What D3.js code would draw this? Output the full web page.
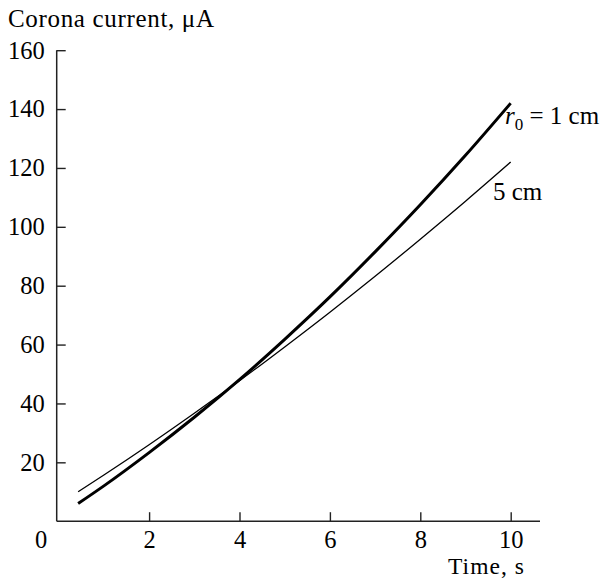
<!DOCTYPE html>
<html>
<head>
<meta charset="utf-8">
<script src="https://cdn.jsdelivr.net/npm/d3@7"></script>
<style>
  html, body { margin: 0; padding: 0; background: #fff; }
  svg { display: block; font-family: "Liberation Serif", "Times New Roman", serif; }
</style>
</head>
<body>
<svg id="chart" width="608" height="579"></svg>
<script>
// ---- data ----
const timeS = [0.43, 1, 2, 3, 4, 5, 6, 7, 8, 9, 10];
const currentR1 = [6.0, 12.0, 23.3, 35.3, 48.1, 61.8, 76.2, 91.5, 107.5, 124.3, 142.0]; // r0 = 1 cm (thick)
const currentR5 = [10.0, 15.7, 26.0, 36.7, 47.7, 59.2, 71.0, 83.2, 95.8, 108.7, 122.0]; // 5 cm (thin)
const xTicks = [2, 4, 6, 8, 10];
const yTicks = [20, 40, 60, 80, 100, 120, 140, 160];
const yTitle = "Corona current, μA";
const xTitle = "Time, s";

const svg = d3.select("#chart");
const x = d3.scaleLinear().domain([0, 10]).range([58.7, 510.7]);
const y = d3.scaleLinear().domain([0, 160]).range([521.2, 50.2]);
const axisX0 = 56.7;
const axisColor = "#222";
const tickFont = 24.5;

// x axis
const gx = svg.append("g").attr("transform", `translate(0,${y(0)})`)
  .call(d3.axisBottom(x).tickValues(xTicks).tickSizeInner(-9).tickSizeOuter(0).tickPadding(9.5).tickFormat(d3.format("d")));
gx.select(".domain").remove();
gx.selectAll(".tick line").attr("stroke", axisColor).attr("stroke-width", 1.4);
gx.selectAll(".tick text").attr("font-size", tickFont).attr("fill", "#000").attr("font-family", "Liberation Serif");
svg.append("line").attr("x1", axisX0).attr("x2", 540).attr("y1", y(0)).attr("y2", y(0))
  .attr("stroke", axisColor).attr("stroke-width", 1.5);
// corner "0" label
svg.append("text").attr("x", 41).attr("y", 548).attr("text-anchor", "middle")
  .attr("font-size", tickFont).text("0");

// y axis
const gy = svg.append("g").attr("transform", `translate(${axisX0},0)`)
  .call(d3.axisLeft(y).tickValues(yTicks).tickSizeInner(-9).tickSizeOuter(0).tickPadding(12).tickFormat(d3.format("d")));
gy.select(".domain").remove();
gy.selectAll(".tick line").attr("stroke", axisColor).attr("stroke-width", 1.4);
gy.selectAll(".tick text").attr("font-size", tickFont).attr("fill", "#000").attr("font-family", "Liberation Serif");
svg.append("line").attr("x1", axisX0).attr("x2", axisX0).attr("y1", y(0)).attr("y2", y(160))
  .attr("stroke", axisColor).attr("stroke-width", 1.5);

// titles
svg.append("text").attr("x", 8).attr("y", 27).attr("font-size", 25)
  .attr("textLength", 206).attr("lengthAdjust", "spacing").text(yTitle);
svg.append("text").attr("x", 524).attr("y", 573.8).attr("text-anchor", "end").attr("font-size", 23.5)
  .attr("textLength", 76).attr("lengthAdjust", "spacing").text(xTitle);

// curves
const line = d3.line().x((d, i) => x(timeS[i])).y(d => y(d)).curve(d3.curveMonotoneX);
svg.append("path").datum(currentR5).attr("d", line).attr("fill", "none")
  .attr("stroke", "#000").attr("stroke-width", 1.3);
svg.append("path").datum(currentR1).attr("d", line).attr("fill", "none")
  .attr("stroke", "#000").attr("stroke-width", 3);

// curve labels
const lab1 = svg.append("text").attr("x", 505).attr("y", 123.5).attr("font-size", 25);
lab1.append("tspan").attr("font-style", "italic").text("r");
lab1.append("tspan").attr("font-size", 17).attr("dy", 6).text("0");
lab1.append("tspan").attr("dy", -6).text(" = 1 cm");
svg.append("text").attr("x", 493).attr("y", 199.5).attr("font-size", 25).text("5 cm");
</script>
</body>
</html>
